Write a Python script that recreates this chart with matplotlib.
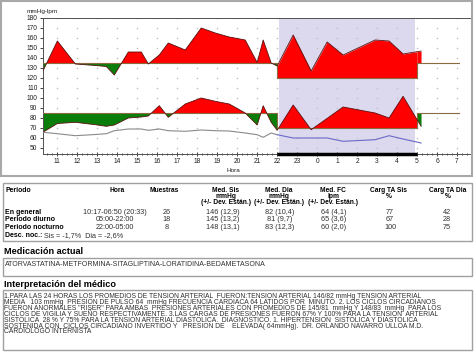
import numpy as np
import matplotlib
matplotlib.use("Agg")
import matplotlib.pyplot as plt
from matplotlib.patches import Rectangle

plt.rcParams['font.family'] = ['Liberation Sans', 'DejaVu Sans']

W, H = 474, 355

# ----- chart data (hours, day 2 continues past 24) -----
hours = [10.3, 11.0, 11.9, 12.9, 13.45, 13.85, 14.55, 15.2, 15.55, 16.1, 16.55, 17.4, 18.2, 18.9,
         19.6, 20.4, 21.0, 21.3, 21.7, 22.0, 22.8, 23.7, 24.5, 25.3, 26.9, 27.6, 28.3, 29.2]
sistolica = [128, 157, 134, 132.5, 131.5, 123, 146, 146, 134, 143, 155, 148, 170, 165,
             161, 158, 135.5, 158, 135, 132, 163, 127, 156, 143, 158, 157, 144, 147]
diastolica = [66, 74.5, 75.7, 73.3, 71.7, 73, 80, 81, 82, 92.3, 80.7, 94, 100, 96.7,
              94, 85, 73, 92.3, 75.7, 67.7, 93, 68.3, 79.6, 91, 85, 80, 101.7, 71.7]
frecuencia = [65.7, 64.3, 62.3, 63.5, 64.3, 67.3, 69, 69, 67.7, 69, 67.3, 66.7, 68, 67.3,
              67, 65, 63.3, 60.7, 65, 63.3, 60, 60, 60, 56.7, 58.3, 62.3, 59, 55]

# limits: day / night
SIS_DAY, SIS_NIGHT = 135, 120
DIA_DAY, DIA_NIGHT = 85, 70
NIGHT_START, NIGHT_END = 22.0, 29.0
X_END = 31.1

# ----- table data -----
header_cols = [["Hora"], ["Muestras"], ["Med. Sis", "mmHg", "(+/- Dev. Están.)"],
               ["Med. Dia", "mmHg", "(+/- Dev. Están.)"], ["Med. FC", "lpm", "(+/- Dev. Están.)"],
               ["Carg TA Sis", "%"], ["Carg TA Dia", "%"]]
row_names = ["En general", "Periodo diurno", "Periodo nocturno"]
hora_vals = ["10:17-06:50 (20:33)", "05:00-22:00", "22:00-05:00"]
muestras = ["26", "18", "8"]
med_sis = ["146 (12,9)", "145 (13,2)", "148 (13,1)"]
med_dia = ["82 (10,4)", "81 (9,7)", "83 (12,3)"]
med_fc = ["64 (4,1)", "65 (3,6)", "60 (2,0)"]
carg_sis = ["77", "67", "100"]
carg_dia = ["42", "28", "75"]

medicacion = "ATORVASTATINA-METFORMINA-SITAGLIPTINA-LORATIDINA-BEDAMETASONA"
interpretacion = [
    "1.PARA LAS 24 HORAS LOS PROMEDIOS DE TENSION ARTERIAL  FUERON:TENSION ARTERIAL 146/82 mmHg TENSION ARTERIAL",
    "MEDIA   103 mmHg  PRESION DE PULSO 64  mmHg FRECUENCIA CARDIACA 64 LATIDOS POR  MINUTO. 2. LOS CICLOS CIRCADIANOS",
    "FUERON ANORMALES \"RISER\" PARA AMBAS  PRESIONES ARTERIALES CON PROMEDIOS DE 145/81  mmHg Y 148/83  mmHg  PARA LOS",
    "CICLOS DE VIGILIA Y SUEÑO RESPECTIVAMENTE. 3.LAS CARGAS DE PRESIONES FUERON 67% Y 100% PARA LA TENSION  ARTERIAL",
    "SISTOLICA  28 % Y 75% PARA LA TENSION ARTERIAL DIASTOLICA.  DIAGNOSTICO. 1. HIPERTENSION  SISTOLICA Y DIASTOLICA",
    "SOSTENIDA CON  CICLOS CIRCADIANO INVERTIDO Y   PRESION DE    ELEVADA( 64mmHg).  DR. ORLANDO NAVARRO ULLOA M.D.",
    "CARDIOLOGO INTERNISTA",
]


def fx(x):
    return x / W


def fy(y):
    return 1 - y / H


def box(fig, x0, y0, x1, y1, color="#a0a0a0", lw=1.0):
    fig.patches.append(Rectangle((fx(x0), fy(y1)), (x1 - x0) / W, (y1 - y0) / H,
                                 transform=fig.transFigure, fill=False, edgecolor=color, lw=lw))


def segment(t, v, t0, t1):
    # points of the curve between t0 and t1, with interpolated ends
    t = np.asarray(t, float)
    v = np.asarray(v, float)
    inside = (t > t0) & (t < t1)
    ts = np.concatenate([[t0], t[inside], [min(t1, t[-1])]])
    vs = np.interp(ts, t, v)
    return ts, vs


def fill_pressure(ax, t, v, day_lim, night_lim):
    parts = [(t[0], NIGHT_START, day_lim), (NIGHT_START, NIGHT_END, night_lim), (NIGHT_END, t[-1], day_lim)]
    for t0, t1, lim in parts:
        ts, vs = segment(t, v, t0, t1)
        ax.fill_between(ts, vs, lim, where=vs >= lim, interpolate=True, color="#ff0000", lw=0, zorder=2)
        ax.fill_between(ts, vs, lim, where=vs <= lim, interpolate=True, color="#0a7d0a", lw=0, zorder=2)
    # limit line (step)
    ax.plot([t[0], NIGHT_START, NIGHT_START, NIGHT_END, NIGHT_END, X_END],
            [day_lim, day_lim, night_lim, night_lim, day_lim, day_lim],
            color="#8c6a40", lw=0.8, zorder=3)
    ax.plot(t, v, color="#5a1010", lw=0.6, zorder=4)


fig = plt.figure(figsize=(W / 100, H / 100), dpi=100)

# chart panel frame
box(fig, 1, 1, 472, 176, color="#a8a8a8", lw=1.5)

ax = fig.add_axes([fx(43), fy(154), (471 - 43) / W, (154 - 18) / H])
ax.set_xlim(10.28, 31.7)
ax.set_ylim(44, 180)

ax.axvspan(22.1, 28.9, color="#dcd8ee", lw=0, zorder=0)

# grid of small crosses
gx, gy = np.meshgrid(np.arange(11, 32), np.arange(50, 181, 10))
ax.scatter(gx.ravel(), gy.ravel(), marker="+", s=3, lw=0.4, color="#c4c4c4", zorder=1)

fill_pressure(ax, hours, sistolica, SIS_DAY, SIS_NIGHT)
fill_pressure(ax, hours, diastolica, DIA_DAY, DIA_NIGHT)

# heart rate: gray by day, blue by night
t = np.asarray(hours)
hr = np.asarray(frecuencia)
ts, vs = segment(t, hr, t[0], NIGHT_START)
ax.plot(ts, vs, color="#8a8a8a", lw=0.8, zorder=4)
ts, vs = segment(t, hr, NIGHT_START, t[-1])
ax.plot(ts, vs, color="#6a6ac8", lw=0.8, zorder=4)

# night bar on x axis
ax.plot([NIGHT_START, NIGHT_END], [44, 44], color="black", lw=2.5, clip_on=False, zorder=5,
        solid_capstyle="butt")

xt = np.arange(11, 32)
ax.set_xticks(xt)
ax.set_xticklabels([str(int(h) % 24) for h in xt])
ax.set_xticks(np.arange(10.5, 31.6, 0.25), minor=True)
ax.set_yticks(np.arange(50, 181, 10))
ax.tick_params(axis="both", labelsize=4.8, colors="#202020", length=2.5, width=0.6, pad=1.5)
ax.tick_params(axis="x", which="minor", length=1.5, width=0.5, direction="inout")
ax.tick_params(axis="x", which="major", direction="inout", length=3)
for s in ax.spines.values():
    s.set_color("#505050")
    s.set_linewidth(0.7)
ax.spines["right"].set_color("#909090")

fig.text(fx(27), fy(11), "mmHg-lpm", fontsize=4.6, va="center", ha="left", color="#202020")
fig.text(fx(233), fy(170), "Hora", fontsize=4.6, va="center", ha="center", color="#202020")

# ----- table -----
box(fig, 3, 183, 472, 241)
fs_head = 4.75
fs = 5.2
fig.text(fx(5), fy(191), "Periodo", fontsize=fs_head + 0.2, weight="bold", va="center", ha="left")
col_x = [117, 164, 226, 279, 333, 389, 448]
for cx, lines in zip(col_x, header_cols):
    for i, line in enumerate(lines):
        fig.text(fx(cx), fy(191 + 5.5 * i), line, fontsize=fs_head, weight="bold", va="center", ha="center")

row_y = [212.5, 220, 227.5]
cols = [hora_vals, muestras, med_sis, med_dia, med_fc, carg_sis, carg_dia]
val_x = [115, 167, 223, 280, 334, 390, 447]
for i, name in enumerate(row_names):
    fig.text(fx(5), fy(row_y[i]), name, fontsize=5.0, weight="bold", va="center", ha="left")
    for cx, col in zip(val_x, cols):
        fig.text(fx(cx), fy(row_y[i]), col[i], fontsize=fs, va="center", ha="center", color="#303030")
fig.text(fx(5), fy(235.5), "Desc. noc.:", fontsize=5.0, weight="bold", va="center", ha="left")
fig.text(fx(44), fy(235.5), "Sis = -1,7%  Dia = -2,6%", fontsize=fs, va="center", ha="left", color="#303030")

# ----- medication -----
fig.text(fx(4), fy(251.5), "Medicación actual", fontsize=6.6, weight="bold", va="center", ha="left")
box(fig, 3, 258, 472, 276)
fig.text(fx(5), fy(264), medicacion, fontsize=5.05, va="center", ha="left", color="#303030")

# ----- interpretation -----
fig.text(fx(4), fy(284.5), "Interpretación del médico", fontsize=6.6, weight="bold", va="center", ha="left")
box(fig, 3, 290, 472, 350)
for i, line in enumerate(interpretacion):
    fig.text(fx(4), fy(297 + 5.8 * i), line, fontsize=4.85, va="center", ha="left", color="#303030")

fig.savefig("out.png", dpi=100)
